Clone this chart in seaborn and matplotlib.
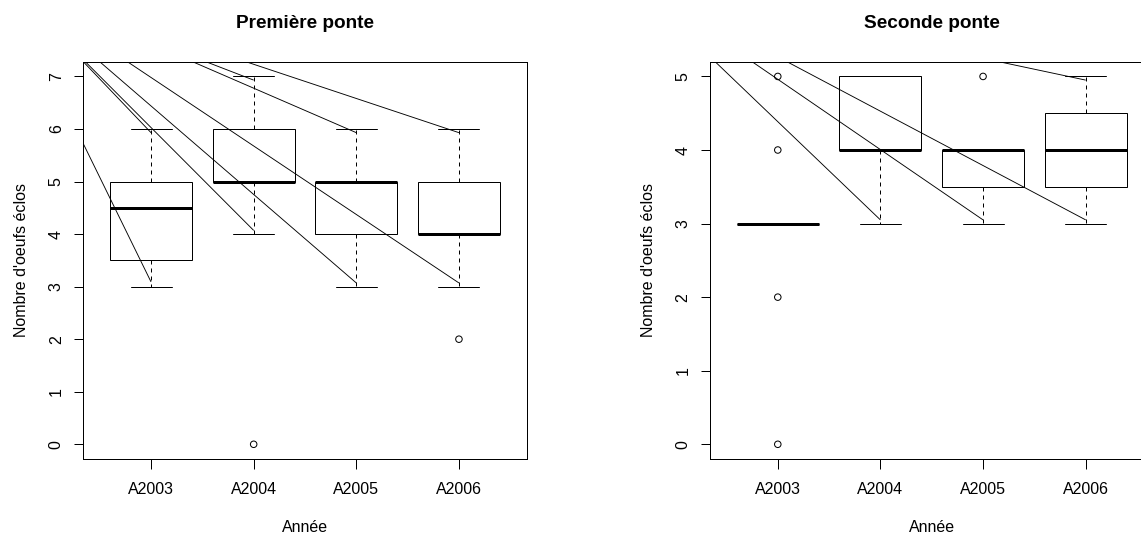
import numpy as np
import pandas as pd
import matplotlib
matplotlib.use("Agg")
import matplotlib.pyplot as plt
import seaborn as sns

# ---------------- data ----------------
categories = ["A2003", "A2004", "A2005", "A2006"]

# Première ponte : five-number summaries
p1_low = [3, 4, 3, 3]
p1_q1 = [3.5, 5, 4, 4]
p1_med = [4.5, 5, 5, 4]
p1_q3 = [5, 6, 5, 5]
p1_high = [6, 7, 6, 6]
p1_out_cat = ["A2004", "A2006"]
p1_out_val = [0, 2]

# Seconde ponte
p2_low = [3, 3, 3, 3]
p2_q1 = [3, 4, 3.5, 3.5]
p2_med = [3, 4, 4, 4]
p2_q3 = [3, 5, 4, 4.5]
p2_high = [3, 5, 4, 5]
p2_out_cat = ["A2003", "A2003", "A2003", "A2003", "A2005"]
p2_out_val = [0, 2, 4, 5, 5]

# stray connector lines seen in the picture (data units; x = category index)
p1_seg_x0 = [-0.66, -0.66, -0.64, -0.50, -0.23, 0.405, 0.535, 0.925]
p1_seg_y0 = [5.72, 7.28, 7.28, 7.28, 7.28, 7.28, 7.28, 7.28]
p1_seg_x1 = [0, 0, 1, 2, 3, 2, 1, 3]
p1_seg_y1 = [3.09, 5.93, 4.07, 3.07, 3.07, 5.93, 6.93, 5.93]

p2_seg_x0 = [-0.61, -0.25, 0.09, 2.156]
p2_seg_y0 = [5.2, 5.2, 5.2, 5.2]
p2_seg_x1 = [1, 2, 3, 3]
p2_seg_y1 = [3.05, 3.05, 3.05, 4.95]

titles = ["Première ponte", "Seconde ponte"]
xlabel = "Année"
ylabel = "Nombre d'oeufs éclos"
p1_yticks = [0, 1, 2, 3, 4, 5, 6, 7]
p2_yticks = [0, 1, 2, 3, 4, 5]


def long_form(low, q1, med, q3, high):
    rows = []
    for c, a, b, m, d, e in zip(categories, low, q1, med, q3, high):
        for v in (a, b, m, d, e):
            rows.append({"Année": c, "val": v})
    return pd.DataFrame(rows)


df1 = long_form(p1_low, p1_q1, p1_med, p1_q3, p1_high)
df2 = long_form(p2_low, p2_q1, p2_med, p2_q3, p2_high)
out1 = pd.DataFrame({"Année": p1_out_cat, "val": p1_out_val})
out2 = pd.DataFrame({"Année": p2_out_cat, "val": p2_out_val})

# ---------------- style ----------------
sns.set_theme(style="ticks")
plt.rcParams["font.family"] = ["Liberation Sans", "DejaVu Sans"]
plt.rcParams["axes.linewidth"] = 1.0
plt.rcParams["axes.edgecolor"] = "black"
plt.rcParams["text.color"] = "black"
plt.rcParams["axes.labelcolor"] = "black"
plt.rcParams["xtick.color"] = "black"
plt.rcParams["ytick.color"] = "black"

DPI = 72
fig = plt.figure(figsize=(1141 / DPI, 540 / DPI), dpi=DPI)
fig.patch.set_facecolor("white")

ax1 = fig.add_axes([0.0730, 0.15, 0.3886, 0.7357])
ax2 = fig.add_axes([0.6223, 0.15, 0.3886, 0.7357])

panels = [
    (ax1, df1, out1, (-0.28, 7.28), p1_yticks,
     (p1_seg_x0, p1_seg_y0, p1_seg_x1, p1_seg_y1)),
    (ax2, df2, out2, (-0.2, 5.2), p2_yticks,
     (p2_seg_x0, p2_seg_y0, p2_seg_x1, p2_seg_y1)),
]

for (ax, df, outs, ylim, yticks, segs), title in zip(panels, titles):
    sns.boxplot(
        data=df, x="Année", y="val", order=categories, ax=ax,
        color="white", linecolor="black", linewidth=1, width=0.8,
        whis=(0, 100), showfliers=False, saturation=1,
        medianprops={"linewidth": 3, "color": "black"},
        whiskerprops={"linestyle": (0, (4, 4)), "color": "black"},
        capprops={"color": "black"},
        boxprops={"edgecolor": "black"},
    )
    sns.stripplot(
        data=outs, x="Année", y="val", order=categories, ax=ax,
        jitter=False, marker="o", size=6.5, facecolors="none",
        edgecolor="black", linewidth=1, color="black", zorder=5,
    )
    for x0, y0, x1, y1 in zip(*segs):
        ax.plot([x0, x1], [y0, y1], color="black", lw=0.9, zorder=6,
                clip_on=True, solid_capstyle="butt")

    ax.set_xlim(-0.66, 3.66)
    ax.set_ylim(*ylim)
    ax.set_yticks(yticks)
    ax.set_yticklabels([str(t) for t in yticks])
    ax.set_title(title, fontsize=19, fontweight="bold", pad=34, color="black")
    ax.set_xlabel(xlabel, fontsize=16, labelpad=22, color="black")
    ax.set_ylabel(ylabel, fontsize=16, labelpad=20, color="black")
    ax.tick_params(axis="both", direction="out", length=9.5, width=1,
                   color="black", labelsize=16, labelcolor="black")
    ax.tick_params(axis="x", pad=14)
    ax.tick_params(axis="y", pad=10)
    for lab in ax.get_yticklabels():
        lab.set_rotation(90)
        lab.set_va("center")
    for s in ax.spines.values():
        s.set_visible(True)
        s.set_color("black")
        s.set_linewidth(1)
    ax.grid(False)
    ax.set_facecolor("white")

fig.savefig("out.png", dpi=DPI, facecolor="white")
